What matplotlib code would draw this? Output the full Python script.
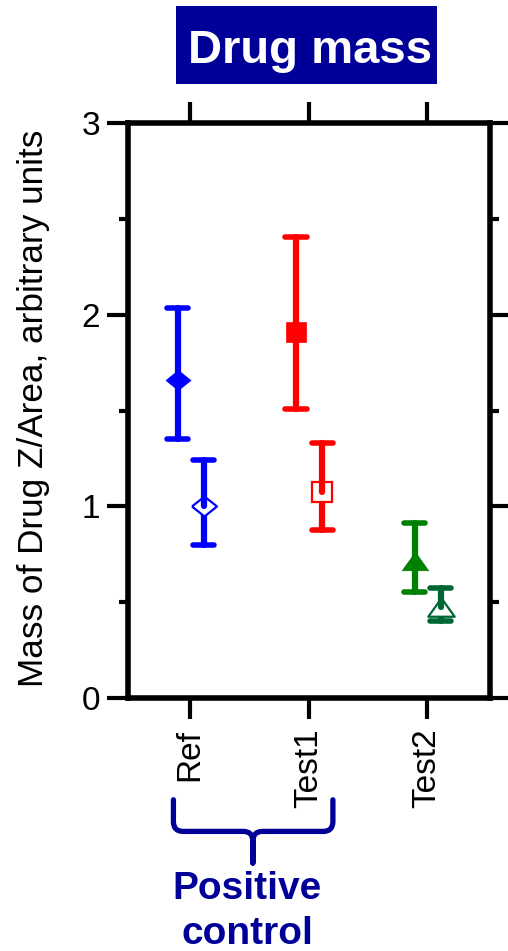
import matplotlib
matplotlib.use('Agg')
import matplotlib.pyplot as plt
from matplotlib.path import Path
from matplotlib.patches import PathPatch, Rectangle
from matplotlib.transforms import blended_transform_factory

plt.rcParams['font.family'] = ['Liberation Sans', 'DejaVu Sans']

categories = ['Ref', 'Test1', 'Test2']

# filled symbols (left of each tick)
filled_mean = [1.66, 1.91, 0.715]
filled_lo = [1.35, 1.51, 0.555]
filled_hi = [2.035, 2.405, 0.913]

# open symbols (right of each tick)
open_mean = [1.00, 1.077, 0.475]
open_lo = [0.80, 0.876, 0.40]
open_hi = [1.24, 1.33, 0.574]

filled_colors = ['#0000ff', '#ff0000', '#008000']
open_colors = ['#0000ff', '#ff0000', '#006633']

navy = '#000099'

# wide diamond and flat triangle, like the original symbols
diamond = [(-1.25, 0), (0, 1), (1.25, 0), (0, -1), (-1.25, 0)]
triangle = [(0, 0.7), (1, -0.7), (-1, -0.7), (0, 0.7)]
filled_markers = [(diamond, 18), ('s', 15), (triangle, 19)]
open_markers = [(diamond, 18), ('s', 15), (triangle, 19)]

fig = plt.figure(figsize=(5.08, 9.51), dpi=100)
ax = fig.add_axes([128 / 508, 1 - 698 / 951, 362 / 508, 575 / 951])

x = list(range(1, len(categories) + 1))
cap = 0.09


def draw_point(xc, mean, lo, hi, color, marker, ms, open_sym):
    ax.vlines(xc, lo, mean, color=color, lw=4.5, capstyle='round', zorder=2)
    ax.hlines([lo, hi], xc - cap, xc + cap, color=color, lw=4, capstyle='round', zorder=2)
    if open_sym:
        ax.plot(xc, mean, marker=marker, ms=ms, mfc='white', mec=color, mew=1.6,
                ls='none', zorder=3)
    else:
        ax.plot(xc, mean, marker=marker, ms=ms, mfc=color, mec=color, mew=0.5,
                ls='none', zorder=3)
    ax.vlines(xc, mean, hi, color=color, lw=4.5, capstyle='round', zorder=4)


for i, xi in enumerate(x):
    m, s = filled_markers[i]
    draw_point(xi - 0.105, filled_mean[i], filled_lo[i], filled_hi[i],
               filled_colors[i], m, s, False)
    m, s = open_markers[i]
    draw_point(xi + 0.115, open_mean[i], open_lo[i], open_hi[i],
               open_colors[i], m, s, True)

ax.set_xlim(0.477, 3.53)
ax.set_ylim(0, 3)
ax.set_xticks(x)
ax.set_xticklabels(categories, rotation=90, fontsize=24)
ax.set_yticks([0, 1, 2, 3])
ax.set_yticks([0.5, 1.5, 2.5], minor=True)
ax.tick_params(labelsize=24)

for sp in ax.spines.values():
    sp.set_linewidth(4)

ax.tick_params(which='both', direction='out', top=True, right=True, width=3)
ax.tick_params(which='major', length=15)
ax.tick_params(which='minor', length=6.5)
ax.tick_params(axis='y', pad=5)
ax.tick_params(axis='x', pad=7)

ax.set_ylabel('Mass of Drug Z/Area, arbitrary units', fontsize=25.3)
ax.yaxis.set_label_coords(-0.215, 0.503)

# brace under Ref and Test1
tr = blended_transform_factory(ax.transData, ax.transAxes)
xl, xm, xr = 0.86, 1.53, 2.205
ytop, yh, ybot = -0.177, -0.232, -0.287
rx, ry = 0.08, 0.017
verts = [(xl, ytop), (xl, yh + ry), (xl, yh), (xl + rx, yh), (xm - rx, yh),
         (xm, yh), (xm, yh - ry), (xm, ybot),
         (xm, ybot), (xm, yh - ry), (xm, yh), (xm + rx, yh), (xr - rx, yh),
         (xr, yh), (xr, yh + ry), (xr, ytop)]
codes = [Path.MOVETO, Path.LINETO, Path.CURVE3, Path.CURVE3, Path.LINETO,
         Path.CURVE3, Path.CURVE3, Path.LINETO,
         Path.MOVETO, Path.LINETO, Path.CURVE3, Path.CURVE3, Path.LINETO,
         Path.CURVE3, Path.CURVE3, Path.LINETO]
brace = PathPatch(Path(verts, codes), transform=tr, fill=False, edgecolor=navy,
                  lw=3.8, capstyle='round', joinstyle='round', clip_on=False)
ax.add_patch(brace)

fig.text(247 / 508, 1 - 899 / 951, 'Positive', ha='center', va='baseline',
         fontsize=28, fontweight='bold', color=navy)
fig.text(247 / 508, 1 - 944 / 951, 'control', ha='center', va='baseline',
         fontsize=28, fontweight='bold', color=navy)

# title box
fig.patches.append(Rectangle((176 / 508, 1 - 84 / 951), 261 / 508, 78 / 951,
                             transform=fig.transFigure, facecolor=navy,
                             edgecolor='none'))
fig.text(310 / 508, 1 - 63 / 951, 'Drug mass', ha='center', va='baseline',
         fontsize=34, fontweight='bold', color='white')

fig.savefig('out.png', dpi=100)
